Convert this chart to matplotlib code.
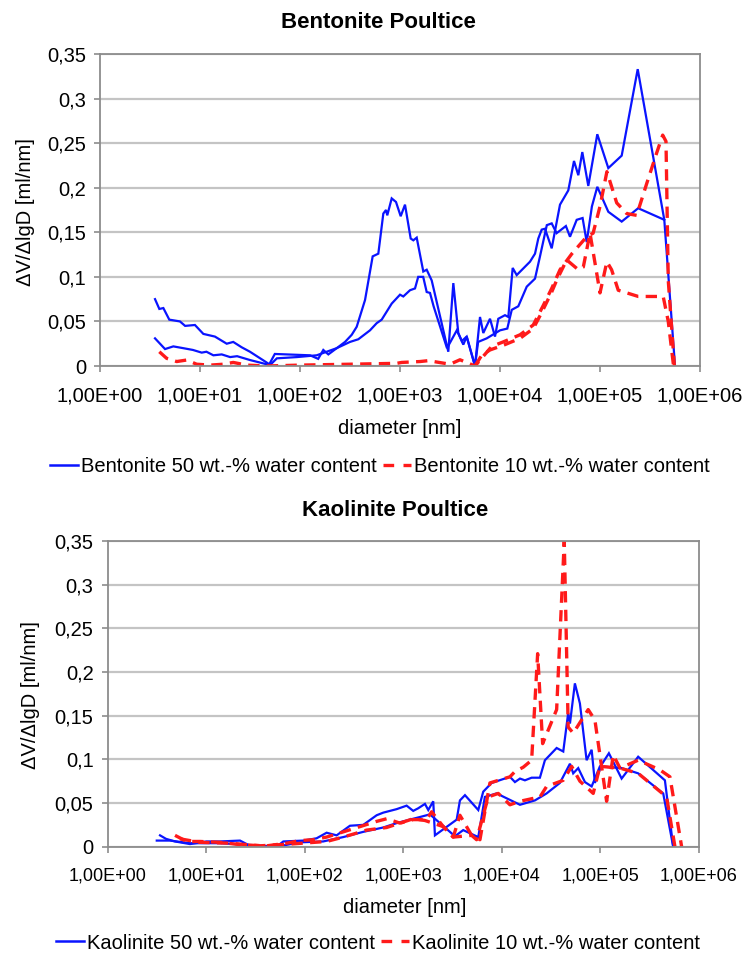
import matplotlib
matplotlib.use("Agg")
import matplotlib.pyplot as plt
from matplotlib.ticker import FixedLocator, FixedFormatter, NullLocator
from matplotlib.lines import Line2D

plt.rcParams['font.family'] = ['Liberation Sans', 'DejaVu Sans']

# ---------------- data: Bentonite poultice ----------------
bent50_a_d = [3.55, 3.92, 4.3, 4.93, 6.3, 7.1, 8.9, 10.8, 14.1, 18.5,
              21.5, 26.1, 31.6, 49.3, 56, 126, 152, 171, 192, 233,
              282, 329, 369, 447, 533, 607, 681, 724, 746, 826,
              912, 1016, 1122, 1279, 1359, 1469, 1710, 1849, 2075, 3041,
              3414, 3828, 4296, 4645, 5623, 6310, 6808, 7943, 8913, 9616,
              11220, 12110, 13390, 14690, 19950, 22390, 24150, 26120, 28180, 32880,
              39810, 48190, 54950, 60700, 66530, 76380, 93970, 121100, 164800, 238300,
              439500, 562300]
bent50_a_v = [0.075, 0.064, 0.065, 0.052, 0.050, 0.045, 0.046, 0.036, 0.033, 0.025,
              0.027, 0.021, 0.016, 0.002, 0.0135, 0.012, 0.008, 0.018, 0.013, 0.020,
              0.027, 0.035, 0.044, 0.074, 0.123, 0.126, 0.171, 0.175, 0.169, 0.188,
              0.184, 0.168, 0.181, 0.143, 0.141, 0.144, 0.106, 0.108, 0.096, 0.016,
              0.093, 0.037, 0.024, 0.033, 0.0, 0.055, 0.037, 0.053, 0.033, 0.053,
              0.057, 0.055, 0.110, 0.102, 0.117, 0.126, 0.143, 0.153, 0.154, 0.132,
              0.181, 0.197, 0.230, 0.214, 0.240, 0.202, 0.260, 0.222, 0.236, 0.333,
              0.164, 0.0]
bent50_b_d = [3.55, 4.47, 5.41, 6.8, 8.5, 10.4, 11.6, 13.6, 16.5, 20,
              23.5, 31.6, 50.1, 58.7, 92.9, 146.8, 184.9, 232.7, 316, 383,
              501, 584, 656, 826, 1000, 1079, 1259, 1413, 1521, 1706,
              1849, 1995, 2168, 2951, 3698, 4150, 4645, 5623, 6039, 7362,
              10000, 11830, 13110, 15240, 18510, 22390, 25120, 29380, 32880, 36810,
              45600, 50120, 58480, 66990, 73620, 82980, 93970, 121100, 164800, 240900,
              439500]
bent50_b_v = [0.031, 0.019, 0.022, 0.020, 0.018, 0.015, 0.016, 0.012, 0.013, 0.010,
              0.011, 0.0067, 0.001, 0.0086, 0.010, 0.012, 0.016, 0.020, 0.027, 0.030,
              0.040, 0.048, 0.052, 0.070, 0.080, 0.078, 0.085, 0.087, 0.100, 0.100,
              0.083, 0.082, 0.067, 0.020, 0.040, 0.028, 0.033, 0.0, 0.027, 0.031,
              0.040, 0.042, 0.063, 0.067, 0.089, 0.098, 0.123, 0.158, 0.160, 0.149,
              0.157, 0.145, 0.164, 0.166, 0.139, 0.179, 0.201, 0.173, 0.162, 0.177,
              0.164]
bent10_a_d = [3.92, 4.64, 5.85, 7.36, 9.26, 12.6, 17.1, 21.5, 29.4, 46.5,
              100, 316, 927, 1040, 1585, 1919, 3162, 3981, 5623, 8270,
              10760, 15850, 21500, 27100, 32880, 39810, 52360, 73620, 85310, 100000,
              117200, 146900, 184900, 232500, 293800, 368700, 423700, 457000, 481500, 554600]
bent10_a_v = [0.016, 0.0086, 0.005, 0.0067, 0.002, 0.001, 0.002, 0.004, 0.001, 0.0,
              0.001, 0.002, 0.003, 0.004, 0.005, 0.006, 0.002, 0.007, 0.0, 0.022,
              0.027, 0.035, 0.046, 0.068, 0.087, 0.108, 0.126, 0.145, 0.149, 0.179,
              0.218, 0.183, 0.171, 0.169, 0.205, 0.239, 0.259, 0.252, 0.096, 0.0]
bent10_b_d = [5623, 6557, 7943, 11220, 15850, 21500, 26120, 32880, 36810, 46450,
              60700, 68080, 79430, 100000, 117200, 130600, 152200, 241500, 428500, 481500,
              544000]
bent10_b_v = [0.0, 0.012, 0.018, 0.024, 0.031, 0.042, 0.060, 0.083, 0.096, 0.119,
              0.108, 0.111, 0.149, 0.082, 0.117, 0.108, 0.085, 0.078, 0.078, 0.050,
              0.0]

# ---------------- data: Kaolinite poultice ----------------
kaol50_a_d = [3.41, 3.92, 4.84, 6.87, 10.1, 13.8, 22.1, 27.9, 52.0, 60.7,
              96.8, 132, 167, 211, 288, 393, 537, 627, 857, 1082,
              1262, 1419, 1660, 1794, 2015, 2096, 3483, 3758, 4227, 5768,
              6477, 7880, 12080, 13580, 15280, 17150, 20060, 24330, 27350, 35970,
              41980, 47100, 49090, 55080, 61940, 72440, 81470, 87900, 102800, 121900,
              164100, 241500, 451000, 547400]
kaol50_a_v = [0.013, 0.009, 0.006, 0.003, 0.006, 0.006, 0.007, 0.001, 0.0, 0.006,
              0.007, 0.0096, 0.016, 0.013, 0.024, 0.025, 0.036, 0.039, 0.043, 0.047,
              0.041, 0.044, 0.049, 0.042, 0.052, 0.013, 0.031, 0.053, 0.059, 0.042,
              0.063, 0.073, 0.080, 0.074, 0.078, 0.076, 0.079, 0.079, 0.099, 0.113,
              0.109, 0.153, 0.141, 0.187, 0.164, 0.099, 0.111, 0.073, 0.094, 0.107,
              0.078, 0.103, 0.076, 0.0]
kaol50_b_d = [3.16, 4.30, 6.87, 13.8, 27.9, 52.0, 89.6, 154, 246, 393,
              627, 857, 1000, 1262, 1477, 1866, 3342, 4057, 5768, 6730,
              8852, 15280, 21660, 28460, 38800, 49090, 52970, 59550, 69660, 81470,
              98860, 164100, 241500, 433500, 547400]
kaol50_b_v = [0.007, 0.007, 0.004, 0.004, 0.002, 0.0, 0.005, 0.006, 0.011, 0.017,
              0.022, 0.027, 0.029, 0.032, 0.034, 0.037, 0.012, 0.019, 0.011, 0.057,
              0.061, 0.048, 0.053, 0.061, 0.073, 0.095, 0.084, 0.090, 0.074, 0.069,
              0.092, 0.090, 0.084, 0.061, 0.0]
kaol10_a_d = [4.84, 6.36, 8.67, 13.8, 23.8, 41.2, 65.7, 89.6, 122, 167,
              364, 537, 679, 926, 1262, 1726, 1941, 2546, 3214, 3758,
              4940, 5998, 7570, 12080, 13580, 16480, 20060, 23080, 25940, 35970,
              42970, 47100, 52970, 75160, 87900, 115600, 134900, 157800, 241500, 401000,
              507000, 666600]
kaol10_a_v = [0.013, 0.006, 0.006, 0.005, 0.002, 0.001, 0.004, 0.007, 0.008, 0.011,
              0.023, 0.029, 0.032, 0.027, 0.031, 0.031, 0.040, 0.023, 0.011, 0.036,
              0.013, 0.008, 0.073, 0.080, 0.086, 0.091, 0.099, 0.221, 0.118, 0.157,
              0.350, 0.137, 0.130, 0.157, 0.145, 0.052, 0.105, 0.090, 0.099, 0.088,
              0.080, 0.0]
kaol10_b_d = [5.43, 8.67, 17.5, 35.2, 71.0, 167, 246, 425, 679, 926,
              1262, 1660, 2546, 3214, 4940, 5546, 7278, 9201, 12080, 15280,
              24380, 28460, 41980, 51070, 61940, 84530, 98860, 157800, 241500, 469000,
              569900]
kaol10_b_v = [0.009, 0.005, 0.004, 0.001, 0.003, 0.006, 0.011, 0.019, 0.022, 0.027,
              0.032, 0.030, 0.023, 0.011, 0.013, 0.008, 0.057, 0.061, 0.048, 0.052,
              0.057, 0.069, 0.076, 0.092, 0.075, 0.061, 0.092, 0.090, 0.084, 0.057,
              0.0]

x_ticks = [1, 10, 100, 1000, 10000, 100000, 1000000]
x_tick_labels = ["1,00E+00", "1,00E+01", "1,00E+02", "1,00E+03",
                 "1,00E+04", "1,00E+05", "1,00E+06"]
y_ticks = [0, 0.05, 0.1, 0.15, 0.2, 0.25, 0.3, 0.35]
y_tick_labels = ["0", "0,05", "0,1", "0,15", "0,2", "0,25", "0,3", "0,35"]

titles = ["Bentonite Poultice", "Kaolinite Poultice"]
legend_labels = [["Bentonite 50 wt.-% water content", "Bentonite 10 wt.-% water content"],
                 ["Kaolinite 50 wt.-% water content", "Kaolinite 10 wt.-% water content"]]

BLUE = "#0a14ff"
RED = "#ff1a1a"
GRID = "#c4c4c4"
SPINE = "#8c8c8c"
FS = 14.5

W, H = 745, 955
fig = plt.figure(figsize=(W / 100, H / 100), dpi=100)


def px_rect(left, top, right, bottom):
    return [left / W, 1 - bottom / H, (right - left) / W, (bottom - top) / H]


def style_axes(ax, xfs):
    ax.set_xscale('log')
    ax.set_xlim(1, 1e6)
    ax.set_ylim(0, 0.35)
    ax.xaxis.set_major_locator(FixedLocator(x_ticks))
    ax.xaxis.set_major_formatter(FixedFormatter(x_tick_labels))
    ax.xaxis.set_minor_locator(NullLocator())
    ax.yaxis.set_major_locator(FixedLocator(y_ticks))
    ax.yaxis.set_major_formatter(FixedFormatter(y_tick_labels))
    ax.yaxis.grid(True, color=GRID, lw=1.6)
    ax.set_axisbelow(True)
    for s in ax.spines.values():
        s.set_color(SPINE)
        s.set_linewidth(1.3)
    ax.tick_params(axis='x', direction='out', length=4, width=1.2, color=SPINE,
                   labelsize=xfs, pad=11)
    ax.tick_params(axis='y', direction='out', length=4, width=1.2, color=SPINE,
                   labelsize=FS, pad=6)


def draw(ax, b50, b10):
    for d, v in b50:
        ax.plot(d, v, color=BLUE, lw=1.6, solid_joinstyle='miter')
    for d, v in b10:
        ax.plot(d, v, color=RED, lw=2.4, dashes=(3.4, 2.2))


# Top panel
ax1 = fig.add_axes(px_rect(100, 54, 700, 366))
style_axes(ax1, FS)
draw(ax1, [(bent50_a_d, bent50_a_v), (bent50_b_d, bent50_b_v)],
     [(bent10_a_d, bent10_a_v), (bent10_b_d, bent10_b_v)])

# Bottom panel
ax2 = fig.add_axes(px_rect(107.5, 541, 699, 846.7))
style_axes(ax2, 13)
draw(ax2, [(kaol50_a_d, kaol50_a_v), (kaol50_b_d, kaol50_b_v)],
     [(kaol10_a_d, kaol10_a_v), (kaol10_b_d, kaol10_b_v)])

# Titles, axis labels
fig.text(378 / W, 1 - 22 / H, titles[0], ha='center', va='center',
         fontsize=16, fontweight='bold')
fig.text(395 / W, 1 - 510 / H, titles[1], ha='center', va='center',
         fontsize=16, fontweight='bold')
for yc, xc in [(212, 26), (695, 31)]:
    fig.text(xc / W, 1 - yc / H, "ΔV/ΔlgD [ml/nm]", rotation=90,
             ha='center', va='center', fontsize=FS)
fig.text(400 / W, 1 - 428 / H, "diameter [nm]", ha='center', va='center', fontsize=FS)
fig.text(405 / W, 1 - 907 / H, "diameter [nm]", ha='center', va='center', fontsize=FS)

# Legends
for (xc, yc), labels in zip([(380, 467), (378, 943)], legend_labels):
    handles = [Line2D([], [], color=BLUE, lw=1.8),
               Line2D([], [], color=RED, lw=2.4, dashes=(3.2, 2.8))]
    fig.legend(handles, labels, loc='center', bbox_to_anchor=(xc / W, 1 - yc / H),
               ncol=2, frameon=False, fontsize=FS, handlelength=1.4,
               handletextpad=0.15, columnspacing=0.3, borderaxespad=0, borderpad=0)

fig.savefig("out.png", dpi=100)
